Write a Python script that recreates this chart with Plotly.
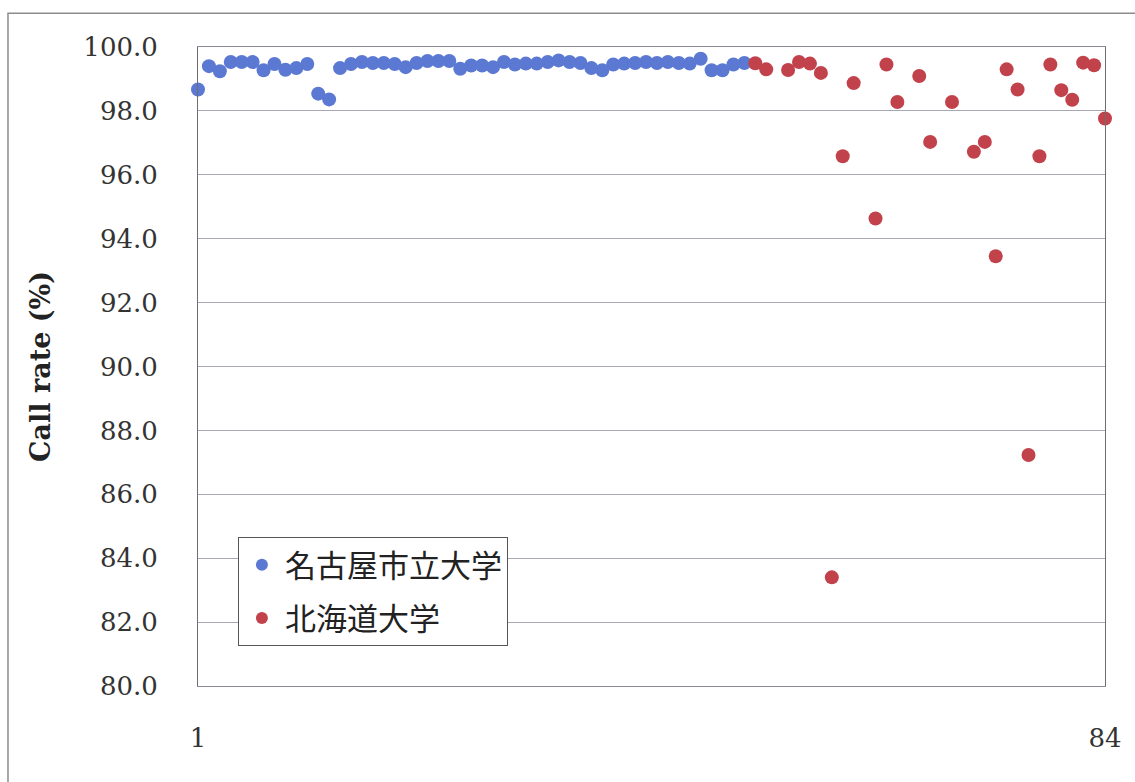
import plotly.graph_objects as go

# Sample number and call rate (%) for each institution
nagoya_idx = list(range(1, 52))
nagoya_rate = [
    98.67, 99.40, 99.24, 99.53, 99.53, 99.53, 99.27, 99.47, 99.29, 99.34,
    99.47, 98.54, 98.36, 99.34, 99.47, 99.53, 99.50, 99.50, 99.47, 99.37,
    99.50, 99.56, 99.56, 99.56, 99.32, 99.42, 99.42, 99.37, 99.53, 99.45,
    99.48, 99.48, 99.53, 99.58, 99.53, 99.50, 99.34, 99.27, 99.45, 99.48,
    99.50, 99.53, 99.50, 99.53, 99.50, 99.48, 99.63, 99.27, 99.27, 99.45,
    99.50,
]

hokudai_idx = [52, 53, 55, 56, 57, 58, 59, 60, 61, 63, 64, 65, 67, 68,
               70, 72, 73, 74, 75, 76, 77, 78, 79, 80, 81, 82, 83, 84]
hokudai_rate = [
    99.49, 99.30, 99.28, 99.53, 99.48, 99.19, 83.40, 96.58, 98.87, 94.63,
    99.45, 98.28, 99.09, 97.03, 98.28, 96.72, 97.03, 93.45, 99.30, 98.67,
    87.23, 96.58, 99.45, 98.65, 98.35, 99.51, 99.43, 97.76,
]

series_names = ["名古屋市立大学", "北海道大学"]
x_ticks = [1, 84]
y_ticks = [80 + 2 * i for i in range(11)]

BLUE = "#5B79D2"
RED = "#C2424C"

fig = go.Figure()
fig.add_trace(go.Scatter(
    x=nagoya_idx, y=nagoya_rate, mode="markers", name=series_names[0],
    legendgroup="a",
    marker=dict(color=BLUE, size=14, line=dict(width=0)),
    cliponaxis=False,
))
fig.add_trace(go.Scatter(
    x=hokudai_idx, y=hokudai_rate, mode="markers", name=series_names[1],
    legendgroup="b",
    marker=dict(color=RED, size=14, line=dict(width=0)),
    cliponaxis=False,
))

serif = "DejaVu Serif"

fig.update_layout(
    width=1135, height=782,
    margin=dict(l=198, r=30, t=47, b=96),
    paper_bgcolor="white", plot_bgcolor="white",
    showlegend=True,
    legend=dict(
        x=0.044, y=0.233, xanchor="left", yanchor="top",
        bgcolor="white", bordercolor="#555555", borderwidth=1,
        font=dict(family="Noto Sans CJK JP", size=31, color="#222222"),
        itemsizing="constant", itemwidth=36,
        traceorder="grouped", tracegroupgap=10,
    ),
    xaxis=dict(
        range=[1, 84], tickvals=x_ticks, ticktext=[str(v) for v in x_ticks],
        showgrid=False, zeroline=False,
        showline=True, linecolor="#8a8a95", linewidth=1, mirror=True,
        ticks="", ticklabelstandoff=29,
        tickfont=dict(family=serif, size=26, color="#333333"),
    ),
    yaxis=dict(
        range=[80, 100], tickvals=y_ticks, tickformat=".1f",
        showgrid=True, gridcolor="#a8a8b4", gridwidth=1,
        zeroline=False,
        showline=True, linecolor="#6e6e6e", linewidth=1, mirror=True,
        ticks="", ticklabelstandoff=34,
        tickfont=dict(family=serif, size=26, color="#333333"),
        title=dict(text="<b>Call rate (%)</b>", standoff=24,
                   font=dict(family=serif, size=27, color="#222222")),
    ),
    shapes=[dict(
        type="rect", xref="paper", yref="paper",
        x0=-0.2095, x1=1.04, y0=-0.17, y1=1.0527,
        line=dict(color="#8c8c8c", width=1.5), fillcolor="rgba(0,0,0,0)",
        layer="below",
    )],
)

fig.write_html("out.html")
